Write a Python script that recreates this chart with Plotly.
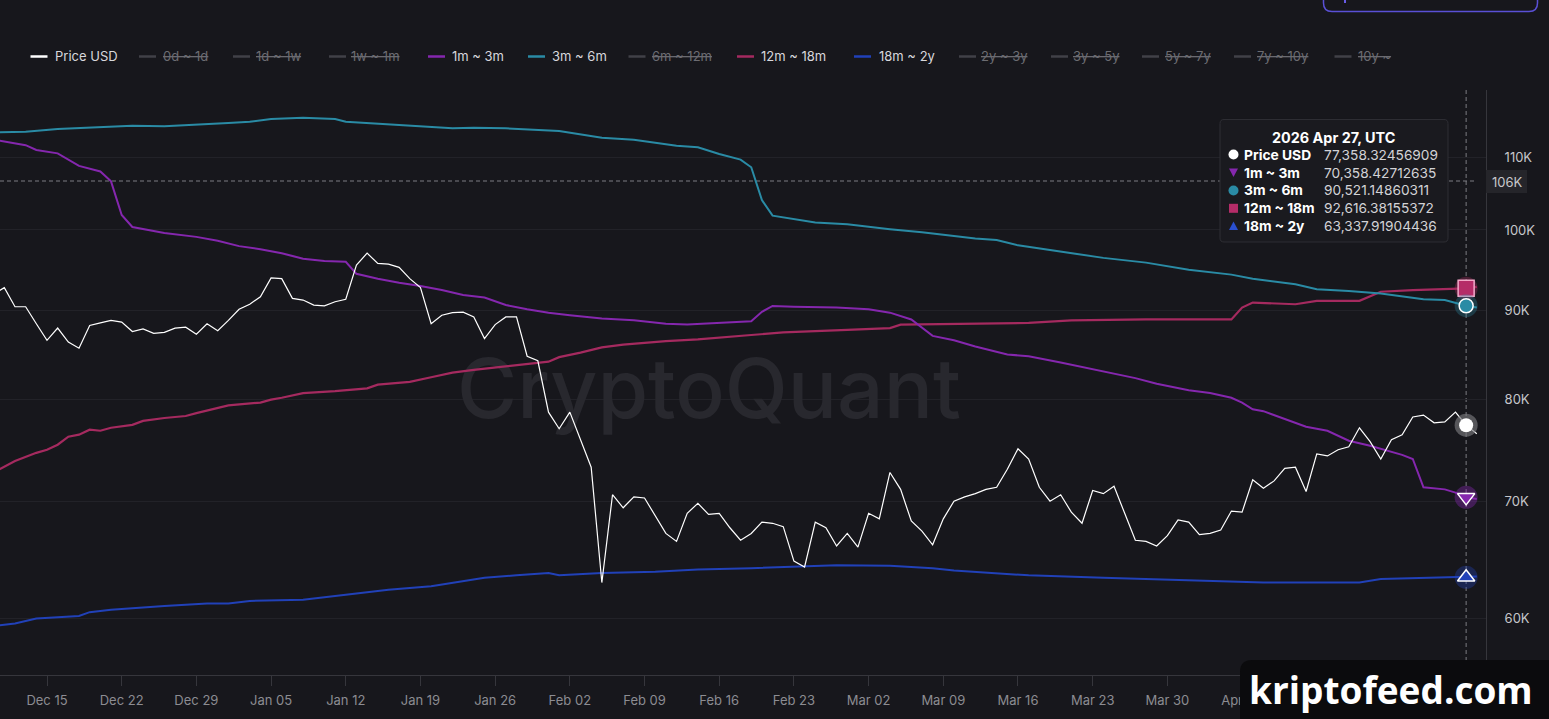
import pandas as pd
import plotly.graph_objects as go

# ---------------- DATA ----------------
START = pd.Timestamp("2025-12-15")          # day offset 0

# Price USD, one value per day from 2025-12-10 to 2026-04-28
price_usd = [
    91900, 92700, 90400, 90400, 88400, 86500, 87900, 86300, 85600, 88200,
    88500, 88800, 88600, 87500, 87800, 87300, 87400, 87900, 88000, 87200,
    88400, 87600, 88800, 90100, 90700, 91600, 93900, 93800, 91400, 91200,
    90600, 90500, 91000, 91300, 95500, 97000, 95700, 95600, 95200, 93800,
    92700, 88400, 89400, 89700, 89750, 89200, 86700, 88300, 89200, 89200,
    84700, 84200, 78700, 77000, 78700, 76000, 73200, 62900, 70600, 69400,
    70400, 70300, 68700, 67100, 66400, 68900, 69800, 68800, 68900, 67600,
    66500, 67100, 68100, 68000, 67700, 64700, 64200, 68100, 67600, 66000,
    67100, 65900, 68900, 68400, 72700, 71100, 68200, 67300, 66100, 68400,
    70000, 70400, 70700, 71100, 71300, 73000, 75000, 74000, 71300, 70000,
    70600, 69000, 68000, 71000, 70700, 71400, 68900, 66500, 66400, 66000,
    66900, 68300, 68100, 67000, 67100, 67400, 69100, 69000, 72000, 71200,
    71900, 73100, 73200, 70900, 74500, 74300, 74900, 75200, 77100, 75700,
    74000, 75900, 76400, 78200, 78400, 77600, 77700, 78700, 77358.32456909, 76500,
]
price_first_day = "2025-12-10"

# 1m ~ 3m realized price (day offsets from 2025-12-15)
m1_3_day = [-5, -4, -2, -1, 1, 3, 5, 6, 7, 8, 11, 14, 16, 18, 20, 22, 24, 26, 28, 29,
            31, 33, 35, 37, 39, 41, 43, 45, 47, 49, 52, 55, 58, 60, 63, 66, 67, 68, 70, 74,
            77, 79, 81, 83, 85, 87, 90, 92, 95, 97, 100, 102, 104, 107, 109, 111, 112, 113, 114, 116,
            118, 120, 122, 124, 126, 127, 128, 129, 131, 132, 133, 134]
m1_3_usd = [112600, 112300, 111800, 111100, 110600, 108800, 108000, 106600, 102000, 100400,
            99600, 99100, 98600, 97900, 97500, 97000, 96300, 96000, 95900, 94400,
            93800, 93300, 92900, 92400, 91800, 91500, 90600, 90100, 89700, 89400,
            89000, 88800, 88400, 88300, 88500, 88700, 89800, 90500, 90400, 90300,
            90100, 89700, 88900, 87000, 86500, 85800, 84900, 84700, 84000, 83500,
            82800, 82300, 81700, 81000, 80700, 80200, 79700, 79000, 78800, 78000,
            77200, 76800, 75800, 75300, 74700, 74400, 74000, 71300, 71100, 70800,
            70358.42712635, 70200]

# 3m ~ 6m
m3_6_day = [-5, -2, 1, 5, 8, 11, 14, 17, 19, 21, 24, 27, 28, 30, 33, 38, 40, 43, 48, 52,
            55, 59, 61, 63, 65, 66, 67, 68, 72, 75, 79, 82, 87, 89, 91, 95, 99, 103, 107, 111,
            113, 117, 119, 122, 125, 129, 131, 133, 134]
m3_6_usd = [113700, 113800, 114200, 114500, 114700, 114600, 114800, 115100, 115300, 115700,
            115900, 115700, 115300, 115100, 114800, 114300, 114400, 114300, 113900, 112900,
            112600, 111700, 111500, 110500, 109700, 108600, 104000, 101900, 101000, 100750,
            100100, 99700, 98900, 98700, 98000, 97200, 96400, 95800, 94900, 94300,
            93800, 93100, 92500, 92300, 92000, 91300, 91200, 90521.14860311, 90300]

# 12m ~ 18m
m12_18_day = [-5, -3, -1, 0, 1, 2, 3, 4, 5, 6, 8, 9, 11, 13, 14, 17, 20, 21, 22, 24,
              27, 30, 31, 34, 36, 38, 40, 43, 45, 47, 48, 50, 52, 54, 58, 61, 66, 69, 75, 79,
              80, 85, 92, 96, 103, 111, 112, 113, 117, 119, 123, 125, 128, 133, 134]
m12_18_usd = [72700, 73800, 74600, 74900, 75400, 76200, 76400, 76900, 76800, 77100,
              77400, 77800, 78100, 78300, 78600, 79400, 79700, 80000, 80200, 80700,
              80900, 81200, 81600, 81900, 82400, 82900, 83200, 83600, 83900, 84100,
              84600, 85100, 85700, 86000, 86400, 86600, 87100, 87400, 87700, 87900,
              88300, 88400, 88500, 88800, 88900, 88900, 90300, 90900, 90700, 91100,
              91100, 92200, 92400, 92616.38155372, 92800]

# 18m ~ 2y
y18_2_day = [-5, -3, -1, 3, 4, 6, 11, 15, 17, 19, 24, 27, 30, 32, 36, 39, 41, 44, 47, 48,
             50, 52, 57, 61, 66, 72, 74, 79, 83, 85, 92, 99, 107, 114, 118, 123, 125, 129, 133, 134]
y18_2_usd = [59400, 59600, 60000, 60200, 60500, 60700, 61000, 61200, 61200, 61400,
             61500, 61800, 62100, 62300, 62600, 63000, 63300, 63500, 63700, 63500,
             63600, 63700, 63800, 64000, 64100, 64300, 64350, 64300, 64100, 63900,
             63500, 63300, 63100, 62900, 62900, 62900, 63200, 63300, 63337.91904436, 63400]

hover_date = "2026-04-27"
hover_label = "2026 Apr 27, UTC"
crosshair_price_label = "106K"

y_tick_vals = [60000, 70000, 80000, 90000, 100000, 110000]
y_tick_text = ["60K", "70K", "80K", "90K", "100K", "110K"]

legend_names = ["Price USD", "0d ~ 1d", "1d ~ 1w", "1w ~ 1m", "1m ~ 3m", "3m ~ 6m",
                "6m ~ 12m", "12m ~ 18m", "18m ~ 2y", "2y ~ 3y", "3y ~ 5y", "5y ~ 7y",
                "7y ~ 10y", "10y ~"]
legend_hidden = [False, True, True, True, False, False, True, False, False, True, True,
                 True, True, True]

# ---------------- STYLE ----------------
BG = "#17171c"
C_PRICE = "#ffffff"
C_M1 = "#8527ae"
C_M3 = "#2a8ba5"
C_M12 = "#a52a5f"
C_Y18 = "#2141b8"
C_HIDDEN = "#414147"
FONT = "Inter, Roboto, Arial, sans-serif"

series_color = {"Price USD": C_PRICE, "1m ~ 3m": C_M1, "3m ~ 6m": C_M3,
                "12m ~ 18m": C_M12, "18m ~ 2y": C_Y18}

# pixel layout of plot area
PL, PR, PT, PB = 0, 1486, 90, 675


def fx(x):
    return (x - PL) / (PR - PL)


def fy(y):
    return (PB - y) / (PB - PT)


def P(x, y):
    return f"{fx(x):.6f},{fy(y):.6f}"


def rrect(x0, y0, x1, y1, r):
    return (f"M{P(x0 + r, y0)} L{P(x1 - r, y0)} Q{P(x1, y0)} {P(x1, y0 + r)} "
            f"L{P(x1, y1 - r)} Q{P(x1, y1)} {P(x1 - r, y1)} L{P(x0 + r, y1)} "
            f"Q{P(x0, y1)} {P(x0, y1 - r)} L{P(x0, y0 + r)} Q{P(x0, y0)} {P(x0 + r, y0)} Z")


def days(offsets):
    return [START + pd.Timedelta(days=int(o)) for o in offsets]


price_dates = list(pd.date_range(price_first_day, periods=len(price_usd), freq="D"))

fig = go.Figure()

# watermark (drawn first so it sits under the lines)
fig.add_trace(go.Scatter(
    x=[START + pd.Timedelta(hours=62 * 24 + 1)], y=[80200], mode="text",
    text=["CryptoQuant"], textposition="middle center",
    textfont=dict(family="Inter, sans-serif", size=82, color="#28282e", weight=500),
    hoverinfo="skip", showlegend=False))

series = [
    ("18m ~ 2y", days(y18_2_day), y18_2_usd, C_Y18, 2.0),
    ("12m ~ 18m", days(m12_18_day), m12_18_usd, C_M12, 2.2),
    ("3m ~ 6m", days(m3_6_day), m3_6_usd, C_M3, 2.0),
    ("1m ~ 3m", days(m1_3_day), m1_3_usd, C_M1, 2.0),
    ("Price USD", price_dates, price_usd, C_PRICE, 1.2),
]
hover_ts = pd.Timestamp(hover_date)
hover_values = {}
for name, xs, ys, col, w in series:
    fig.add_trace(go.Scatter(x=xs, y=ys, mode="lines", name=name,
                             line=dict(color=col, width=w), hoverinfo="skip",
                             showlegend=False))
    hover_values[name] = ys[xs.index(hover_ts)]

# crosshair markers with halos
marker_style = {
    "18m ~ 2y": ("triangle-up", 15, "#ffffff", 1.5, "rgba(33,65,184,0.35)"),
    "12m ~ 18m": ("square", 16, "#f2a9c9", 1.5, "rgba(165,42,95,0.35)"),
    "3m ~ 6m": ("circle", 14, "#ffffff", 1.5, "rgba(42,139,165,0.30)"),
    "1m ~ 3m": ("triangle-down", 15, "#ffffff", 1.5, "rgba(133,39,174,0.40)"),
    "Price USD": ("circle", 14, "#ffffff", 0, "rgba(120,120,124,0.65)"),
}
for name, xs, ys, col, w in series:
    sym, size, lc, lw, halo = marker_style[name]
    v = hover_values[name]
    fig.add_trace(go.Scatter(x=[hover_ts], y=[v], mode="markers", hoverinfo="skip",
                             showlegend=False, cliponaxis=False,
                             marker=dict(symbol="circle", size=23, color=halo, line=dict(width=0))))
    fill = "#b52c68" if name == "12m ~ 18m" else col
    fig.add_trace(go.Scatter(x=[hover_ts], y=[v], mode="markers", hoverinfo="skip",
                             showlegend=False, cliponaxis=False,
                             marker=dict(symbol=sym, size=size, color=fill,
                                         line=dict(width=lw, color=lc))))

shapes = []
annotations = []

# crosshair lines
shapes.append(dict(type="line", xref="x", yref="paper", x0=hover_ts, x1=hover_ts,
                   y0=fy(PT), y1=fy(684), layer="below",
                   line=dict(color="#7c7c82", width=1, dash="4px,3px")))
shapes.append(dict(type="line", xref="paper", yref="paper", x0=fx(0), x1=fx(1476),
                   y0=fy(181), y1=fy(181), layer="below",
                   line=dict(color="#7c7c82", width=1, dash="4px,3px")))

# crosshair price label on the axis
shapes.append(dict(type="rect", xref="paper", yref="paper", x0=fx(1486), x1=fx(1527),
                   y0=fy(193), y1=fy(170), layer="above", fillcolor="#25252a",
                   line=dict(width=0)))
annotations.append(dict(xref="paper", yref="paper", x=fx(1507), y=fy(181.5),
                        text=crosshair_price_label, showarrow=False, xanchor="center",
                        yanchor="middle", font=dict(family=FONT, size=13, color="#c8c8cc")))

# tooltip box
shapes.append(dict(type="path", xref="paper", yref="paper", layer="above",
                   path=rrect(1220, 119.5, 1448, 242, 4), fillcolor="#1a1a1f",
                   line=dict(color="#2e2e34", width=1)))
annotations.append(dict(xref="paper", yref="paper", x=fx(1334), y=fy(137.5),
                        text=f"<b>{hover_label}</b>", showarrow=False, xanchor="center",
                        yanchor="middle", font=dict(family=FONT, size=14.4, color="#ffffff")))
tip_order = ["Price USD", "1m ~ 3m", "3m ~ 6m", "12m ~ 18m", "18m ~ 2y"]
row_y = [154.5, 172.5, 190.5, 208.3, 226]
for name, yy in zip(tip_order, row_y):
    annotations.append(dict(xref="paper", yref="paper", x=fx(1242), y=fy(yy),
                            text=f"<b>{name}</b>", showarrow=False, xanchor="left",
                            yanchor="middle", font=dict(family=FONT, size=13.8, color="#ffffff")))
    annotations.append(dict(xref="paper", yref="paper", x=fx(1322), y=fy(yy),
                            text=f"{hover_values[name]:,.8f}", showarrow=False,
                            xanchor="left", yanchor="middle",
                            font=dict(family=FONT, size=13.7, color="#d2d2d6")))
# tooltip icons
ix = 1233.5
shapes.append(dict(type="circle", xref="paper", yref="paper", layer="above",
                   x0=fx(ix - 5), x1=fx(ix + 5), y0=fy(row_y[0] + 5), y1=fy(row_y[0] - 5),
                   fillcolor="#ffffff", line=dict(width=0)))
yy = row_y[1]
shapes.append(dict(type="path", xref="paper", yref="paper", layer="above",
                   path=f"M{P(ix - 4.5, yy - 4)} L{P(ix + 4.5, yy - 4)} L{P(ix, yy + 4.5)} Z",
                   fillcolor=C_M1, line=dict(width=0)))
yy = row_y[2]
shapes.append(dict(type="circle", xref="paper", yref="paper", layer="above",
                   x0=fx(ix - 5), x1=fx(ix + 5), y0=fy(yy + 5), y1=fy(yy - 5),
                   fillcolor=C_M3, line=dict(width=0)))
yy = row_y[3]
shapes.append(dict(type="rect", xref="paper", yref="paper", layer="above",
                   x0=fx(ix - 4.5), x1=fx(ix + 4.5), y0=fy(yy + 4.5), y1=fy(yy - 4.5),
                   fillcolor="#b52c68", line=dict(width=0)))
yy = row_y[4]
shapes.append(dict(type="path", xref="paper", yref="paper", layer="above",
                   path=f"M{P(ix - 4.5, yy + 4)} L{P(ix + 4.5, yy + 4)} L{P(ix, yy - 4.5)} Z",
                   fillcolor="#2a4fd0", line=dict(width=0)))

# custom legend
legend_line_x = [30.5, 139, 233, 329, 428, 528, 628.5, 737, 854, 959, 1051, 1142, 1234, 1334.5]
legend_text_x = [53, 161, 254, 349, 450, 550, 650, 759, 877, 979, 1071, 1163, 1255, 1356]
LEG_Y = 56.5
for name, hid, lx, tx in zip(legend_names, legend_hidden, legend_line_x, legend_text_x):
    col = C_HIDDEN if hid else series_color[name]
    shapes.append(dict(type="line", xref="paper", yref="paper", layer="above",
                       x0=fx(lx), x1=fx(lx + 17), y0=fy(LEG_Y), y1=fy(LEG_Y),
                       line=dict(color=col, width=2.5)))
    txt = f"<s>{name}</s>" if hid else name
    annotations.append(dict(xref="paper", yref="paper", x=fx(tx), y=fy(LEG_Y),
                            text=txt, showarrow=False, xanchor="left", yanchor="middle",
                            font=dict(family=FONT, size=13,
                                      color="#6c6c72" if hid else "#d8d8dc")))

# top-right button outline (cut off by the page top)
shapes.append(dict(type="path", xref="paper", yref="paper", layer="above",
                   path=(f"M{P(1323.5, -30)} L{P(1323.5, 3)} Q{P(1323.5, 11.5)} {P(1332, 11.5)} "
                         f"L{P(1529, 11.5)} Q{P(1537.5, 11.5)} {P(1537.5, 3)} L{P(1537.5, -30)}"),
                   line=dict(color="#5a50d6", width=1.5)))
shapes.append(dict(type="line", xref="paper", yref="paper", layer="above",
                   x0=fx(1345), x1=fx(1345), y0=fy(-2), y1=fy(3),
                   line=dict(color="#6a5ce8", width=2)))

# kriptofeed.com badge
shapes.append(dict(type="path", xref="paper", yref="paper", layer="above",
                   path=rrect(1240, 660, 1570, 740, 12), fillcolor="#0b0b0d",
                   line=dict(width=0)))
annotations.append(dict(xref="paper", yref="paper", x=fx(1391), y=fy(689),
                        text="<b>kriptofeed.com</b>", showarrow=False, xanchor="center",
                        yanchor="middle",
                        font=dict(family="Open Sans, Arial, sans-serif", size=37,
                                  color="#ffffff")))

fig.update_layout(
    width=1549, height=719,
    margin=dict(l=PL, r=1549 - PR, t=PT, b=719 - PB, pad=0),
    paper_bgcolor=BG, plot_bgcolor=BG,
    showlegend=False, hovermode=False,
    font=dict(family=FONT, size=13, color="#c8c8cc"),
    xaxis=dict(type="date",
               range=["2025-12-10 14:17", "2026-04-28 20:40"],
               tick0="2025-12-15", dtick=7 * 86400000, tickformat="%b %d",
               showgrid=False, zeroline=False, showline=True, linecolor="#36363c",
               linewidth=1, ticks="outside", ticklen=10, tickcolor="#36363c",
               tickwidth=1, ticklabelstandoff=3,
               tickfont=dict(family=FONT, size=13, color="#8c8c92")),
    yaxis=dict(type="log", range=[4.74586, 5.07995], side="right",
               tickmode="array", tickvals=y_tick_vals, ticktext=y_tick_text,
               showgrid=True, gridcolor="#222228", gridwidth=1, zeroline=False,
               showline=True, linecolor="#36363c", linewidth=1, ticks="",
               ticklabelstandoff=15,
               tickfont=dict(family=FONT, size=13, color="#c6c6ca")),
    shapes=shapes, annotations=annotations,
)

fig.write_html("out.html")
